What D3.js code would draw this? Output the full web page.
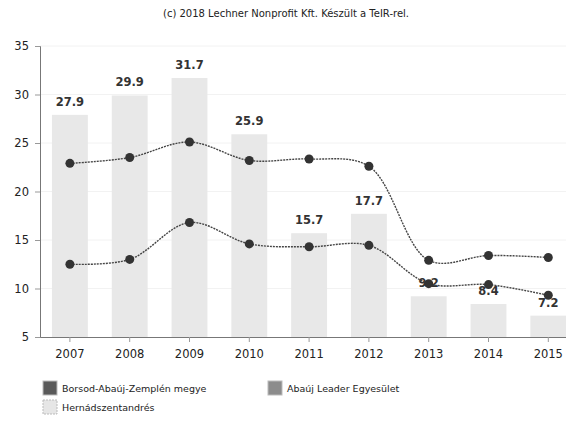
<!DOCTYPE html>
<html>
<head>
<meta charset="utf-8">
<script src="https://cdn.jsdelivr.net/npm/d3@7"></script>
<style>
  body { margin: 0; background: #fff; }
  svg { display: block; }
</style>
</head>
<body>
<div id="chart"></div>
<script>
const years = ["2007", "2008", "2009", "2010", "2011", "2012", "2013", "2014", "2015"];
const hernad = [27.9, 29.9, 31.7, 25.9, 15.7, 17.7, 9.2, 8.4, 7.2];
const abauj = [22.9, 23.5, 25.1, 23.2, 23.35, 22.6, 12.9, 13.4, 13.2];
const borsod = [12.5, 13.0, 16.8, 14.6, 14.3, 14.45, 10.5, 10.4, 9.3];
const yTicks = [5, 10, 15, 20, 25, 30, 35];
const legendItems = [
	{ name: "Borsod-Abaúj-Zemplén megye", color: "#5a5a5a" },
	{ name: "Abaúj Leader Egyesület", color: "#8c8c8c" },
	{ name: "Hernádszentandrés", color: "#e6e6e6" },
];

const W = 566, H = 421;
const LEFT = 40, TOP = 46, BOTTOM = 337;
const FONT = "DejaVu Sans, Verdana, sans-serif";

const svg = d3.select("#chart").append("svg")
	.attr("width", W)
	.attr("height", H);

const x = d3.scaleBand().domain(years).range([LEFT, LEFT + 9 * 59.8])
	.paddingInner(0.4).paddingOuter(0.2);
const y = d3.scaleLinear().domain([5, 35]).range([BOTTOM, TOP]);
const cx = (d) => x(d) + x.bandwidth() / 2;

// title
svg.append("text")
	.attr("x", 286).attr("y", 17)
	.attr("text-anchor", "middle")
	.style("font-family", FONT).style("font-size", "10px")
	.style("fill", "#222")
	.text("(c) 2018 Lechner Nonprofit Kft. Készült a TeIR-rel.");

// faint grid
svg.append("g").selectAll("line")
	.data(yTicks.slice(1))
	.join("line")
	.attr("x1", LEFT).attr("x2", W)
	.attr("y1", (d) => y(d)).attr("y2", (d) => y(d))
	.style("stroke", "#f2f2f2");

// bars
svg.append("g").selectAll("rect")
	.data(hernad)
	.join("rect")
	.attr("x", (d, i) => x(years[i]))
	.attr("width", x.bandwidth())
	.attr("y", (d) => y(d))
	.attr("height", (d) => BOTTOM - y(d))
	.style("fill", "#e8e8e8");

// bar labels
svg.append("g").selectAll("text")
	.data(hernad)
	.join("text")
	.attr("x", (d, i) => cx(years[i]))
	.attr("y", (d) => y(d) - 9)
	.attr("text-anchor", "middle")
	.style("font-family", FONT).style("font-size", "11.5px").style("font-weight", "bold")
	.style("fill", "#333")
	.text((d) => d);

// axes
const yAxis = svg.append("g")
	.attr("transform", `translate(${LEFT},0)`)
	.call(d3.axisLeft(y).tickValues(yTicks).tickSize(5).tickPadding(6));
yAxis.select(".domain").style("stroke", "#777");
yAxis.selectAll(".tick line").style("stroke", "#999");
yAxis.selectAll("text").style("font-family", FONT).style("font-size", "11.5px").style("fill", "#222");

const xAxis = svg.append("g")
	.attr("transform", `translate(0,${BOTTOM})`)
	.call(d3.axisBottom(x).tickSize(5).tickPadding(8).tickSizeOuter(0));
xAxis.select(".domain").style("stroke", "#777");
xAxis.selectAll(".tick line").style("stroke", "#999");
xAxis.selectAll("text").style("font-family", FONT).style("font-size", "11.5px").style("fill", "#222");

// lines
const line = d3.line()
	.x((d, i) => cx(years[i]))
	.y((d) => y(d))
	.curve(d3.curveCatmullRom.alpha(0.5));

[abauj, borsod].forEach((s) => {
	svg.append("path")
		.datum(s)
		.attr("d", line)
		.style("fill", "none")
		.style("stroke", "#444")
		.style("stroke-width", 1.4)
		.style("stroke-dasharray", "2,1");
	svg.append("g").selectAll("circle")
		.data(s)
		.join("circle")
		.attr("cx", (d, i) => cx(years[i]))
		.attr("cy", (d) => y(d))
		.attr("r", 4.5)
		.style("fill", "#333");
});

// legend
const legendPos = [[43, 381], [268, 381], [43, 400]];
const legend = svg.append("g").selectAll("g")
	.data(legendItems)
	.join("g")
	.attr("transform", (d, i) => `translate(${legendPos[i][0]},${legendPos[i][1]})`);
legend.append("rect")
	.attr("width", 14).attr("height", 14)
	.style("fill", (d) => d.color)
	.style("stroke", "#bbb")
	.style("stroke-dasharray", (d, i) => (i === 2 ? "2,1" : null));
legend.append("text")
	.attr("x", 19).attr("y", 11)
	.style("font-family", FONT).style("font-size", "9.5px")
	.style("fill", "#222")
	.text((d) => d.name);
</script>
</body>
</html>
